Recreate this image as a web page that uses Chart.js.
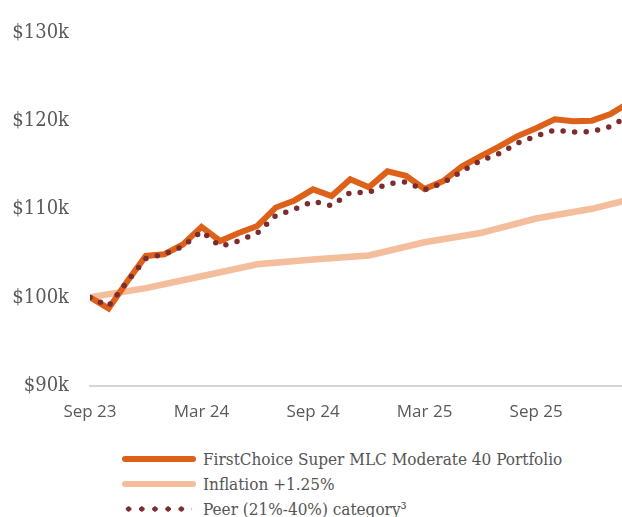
<!DOCTYPE html>
<html>
<head>
<meta charset="utf-8">
<title>Growth of $100k</title>
<script src="https://cdn.jsdelivr.net/npm/chart.js@4.4.1/dist/chart.umd.min.js"></script>
<style>
  html, body { margin: 0; padding: 0; background: #fff; }
  #wrap { position: relative; width: 622px; height: 517px; overflow: hidden; }
  #chart-box { position: absolute; left: 0; top: 0; width: 622px; height: 430px; }
  #legend {
    position: absolute; left: 122px; top: 446px; margin: 0; padding: 0; list-style: none;
    font-family: "DejaVu Serif Condensed", "DejaVu Serif", serif; font-size: 17px; color: #555;
  }
  #legend li { height: 25px; display: flex; align-items: center; white-space: nowrap; }
  #legend .swatch { width: 74px; height: 6px; margin-right: 7px; border-radius: 3px; flex: none; }
</style>
</head>
<body>
<div id="wrap">
  <div id="chart-box"><canvas id="chart-canvas"></canvas></div>
  <ul id="legend"></ul>
</div>
<script>
  // Value of $100k invested at end of Sep 2023, month by month (in $k).
  var TICK_MONTHS = [0, 6, 12, 18, 24];
  var TICK_LABELS = ["Sep 23", "Mar 24", "Sep 24", "Mar 25", "Sep 25"];

  var FUND_LABEL = "FirstChoice Super MLC Moderate 40 Portfolio";
  var FUND = [100.0, 98.75, 101.8, 104.7, 104.9, 106.0, 108.0, 106.4, 107.3, 108.1,
              110.2, 111.0, 112.25, 111.5, 113.4, 112.5, 114.3, 113.8, 112.3, 113.2,
              114.85, 116.0, 117.1, 118.3, 119.2, 120.2, 120.0, 120.05, 120.8, 122.1];

  var PEER_LABEL = "Peer (21%-40%) category\u00b3";
  var PEER = [100.0, 99.0, 101.8, 104.4, 104.9, 105.8, 107.5, 105.8, 106.4, 107.3,
              109.3, 110.0, 110.9, 110.4, 111.9, 111.9, 112.9, 113.1, 112.2, 113.0,
              114.3, 115.5, 116.3, 117.5, 118.3, 119.0, 118.75, 118.8, 119.4, 120.6];

  // CPI is quarterly, so the inflation benchmark only moves every three months
  var INFL_LABEL = "Inflation +1.25%";
  var INFL_MONTHS = [0, 3, 6, 9, 12, 15, 18, 21, 24, 27, 30];
  var INFL = [100.0, 101.05, 102.4, 103.75, 104.3, 104.75, 106.25, 107.3, 108.95, 110.05, 111.6];

  var COLORS = { fund: "#dd6119", infl: "#f4bd9c", peer: "#7c2c2f", text: "#595959", axis: "#d4d4d4" };
  var X_MAX = 28.62;   // window ends part way through Jan/Feb 26

  function monthly(values) {
    return values.map(function (v, i) { return { x: i, y: v }; });
  }

  var datasets = [
    {
      label: FUND_LABEL, data: monthly(FUND), order: 1,
      borderColor: COLORS.fund, borderWidth: 6, borderJoinStyle: "miter", pointRadius: 0
    },
    {
      label: INFL_LABEL, order: 2,
      data: INFL.map(function (v, i) { return { x: INFL_MONTHS[i], y: v }; }),
      borderColor: COLORS.infl, borderWidth: 6.5, pointRadius: 0
    },
    {
      label: PEER_LABEL, data: monthly(PEER), order: 0,
      borderColor: COLORS.peer, borderWidth: 5.5, borderDash: [0, 11.6], borderCapStyle: "round", pointRadius: 0
    }
  ];

  var chart = new Chart(document.getElementById("chart-canvas").getContext("2d"), {
    type: "line",
    data: { datasets: datasets },
    options: {
      responsive: true,
      maintainAspectRatio: false,
      animation: false,
      layout: { padding: { top: 25.5, left: 0, right: 0, bottom: 0 } },
      plugins: { legend: { display: false }, tooltip: { enabled: false } },
      scales: {
        x: {
          type: "linear", min: 0, max: X_MAX,
          grid: { display: false, drawTicks: false },
          border: { display: true, color: COLORS.axis, width: 2 },
          afterBuildTicks: function (s) { s.ticks = TICK_MONTHS.map(function (v) { return { value: v }; }); },
          afterFit: function (s) { s.height = 44.5; },
          ticks: {
            padding: 16, maxRotation: 0, autoSkip: false, color: COLORS.text,
            font: { family: "'Open Sans'", size: 17 },
            callback: function (v) { return TICK_LABELS[TICK_MONTHS.indexOf(v)]; }
          }
        },
        y: {
          min: 90, max: 130,
          grid: { display: false, drawTicks: false },
          border: { display: false },
          afterFit: function (s) { s.width = 90; },
          ticks: {
            stepSize: 10, padding: 21, color: COLORS.text,
            font: { family: "'DejaVu Serif Condensed', 'DejaVu Serif'", size: 20 },
            callback: function (v) { return "$" + v + "k"; }
          }
        }
      }
    }
  });

  // legend list under the plot, one series per row
  var legend = document.getElementById("legend");
  chart.data.datasets.forEach(function (ds) {
    var li = document.createElement("li");
    var sw = document.createElement("span");
    sw.className = "swatch";
    if (ds.borderDash) {
      sw.style.background = "radial-gradient(circle, " + ds.borderColor + " 2.4px, transparent 2.9px) 0 0 / 13.2px 6px repeat-x";
      sw.style.borderRadius = "0";
      sw.style.width = "70px";
      sw.style.marginRight = "11px";
    } else {
      sw.style.background = ds.borderColor;
    }
    li.appendChild(sw);
    li.appendChild(document.createTextNode(ds.label));
    legend.appendChild(li);
  });
</script>
</body>
</html>
